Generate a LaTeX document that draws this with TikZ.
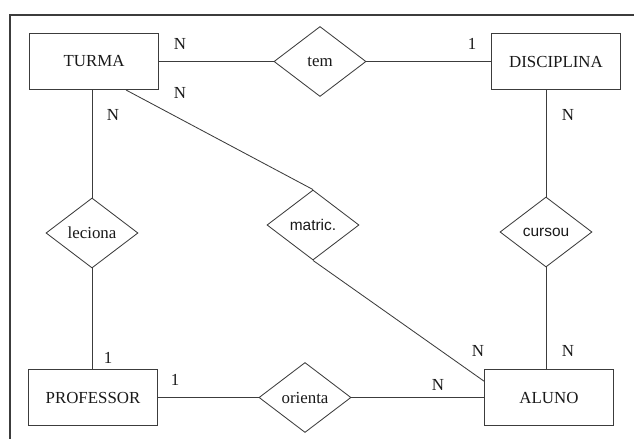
\documentclass[tikz,border=0pt]{standalone}
\usepackage{fontspec}
\setmainfont{Liberation Serif}
\newfontfamily\arialfont{Liberation Sans}
\usetikzlibrary{
    calc,
    positioning,
    shapes.geometric
}
\definecolor{erline}{RGB}{60,60,60}
\definecolor{ertext}{RGB}{25,25,25}

\tikzset{
    entity/.style={draw=erline, line width=0.7pt, rectangle, minimum width=3.2cm,
        minimum height=1.4cm, inner sep=0pt, text=ertext, font=\fontsize{12}{14}\selectfont},
    relation/.style={draw=erline, line width=0.6pt, diamond, minimum width=2.3cm,
        minimum height=1.75cm, inner sep=0pt, text=ertext, font=\fontsize{12}{14}\selectfont},
    card/.style={text=ertext, inner sep=0pt, font=\fontsize{12}{14}\selectfont},
    link/.style={draw=erline, line width=0.6pt}
}

\begin{document}
\begin{tikzpicture}[x=0.025cm, y=-0.025cm]
        \useasboundingbox (0,0) rectangle (634,439);

        % Frame (only top and left edges)
        \draw[erline, line width=1.5pt] (634,15) -- (10,15) -- (10,439);

        % Entities
        \node[entity] (turma) at (94,61.5) {TURMA};
        \node[entity] (disciplina) at (556,61.5) {DISCIPLINA};
        \node[entity] (professor) at (93,397.5) {PROFESSOR};
        \node[entity] (aluno) at (549,397.5) {ALUNO};

        % Relationships
        \node[relation] (tem) at (320,61.5) {tem};
        \node[relation] (leciona) at (92,233) {leciona};
        \node[relation, font=\arialfont\fontsize{11}{13}\selectfont] (matric) at (313,225) {matric.};
        \node[relation, font=\arialfont\fontsize{11}{13}\selectfont] (cursou) at (546,232) {cursou};
        \node[relation] (orienta) at (305,397.5) {orienta};

        % Connections
        \draw[link] (turma.east) -- (tem.west);
        \draw[link] (tem.east) -- (disciplina.west);
        \draw[link] (turma.south -| leciona.north) -- (leciona.north);
        \draw[link] (leciona.south) -- (leciona.south |- professor.north);
        \draw[link] ([xshift=0.8cm]turma.south) -- (matric.north);
        \draw[link] (matric.south) -- ([yshift=0.4cm]aluno.west);
        \draw[link] (disciplina.south -| cursou.north) -- (cursou.north);
        \draw[link] (cursou.south) -- (cursou.south |- aluno.north);
        \draw[link] (professor.east) -- (orienta.west);
        \draw[link] (orienta.east) -- (aluno.west);

        % Cardinalities
        \node[card] (c1) at (180,44) {N};
        \node[card] (c2) at (472,44) {1};
        \node[card] (c3) at (180,93) {N};
        \node[card] (c4) at (113,115) {N};
        \node[card] (c5) at (568,115) {N};
        \node[card] (c6) at (108,358) {1};
        \node[card] (c7) at (175,380) {1};
        \node[card] (c8) at (438,385) {N};
        \node[card] (c9) at (478,351) {N};
        \node[card] (c10) at (568,351) {N};
\end{tikzpicture}
\end{document}
